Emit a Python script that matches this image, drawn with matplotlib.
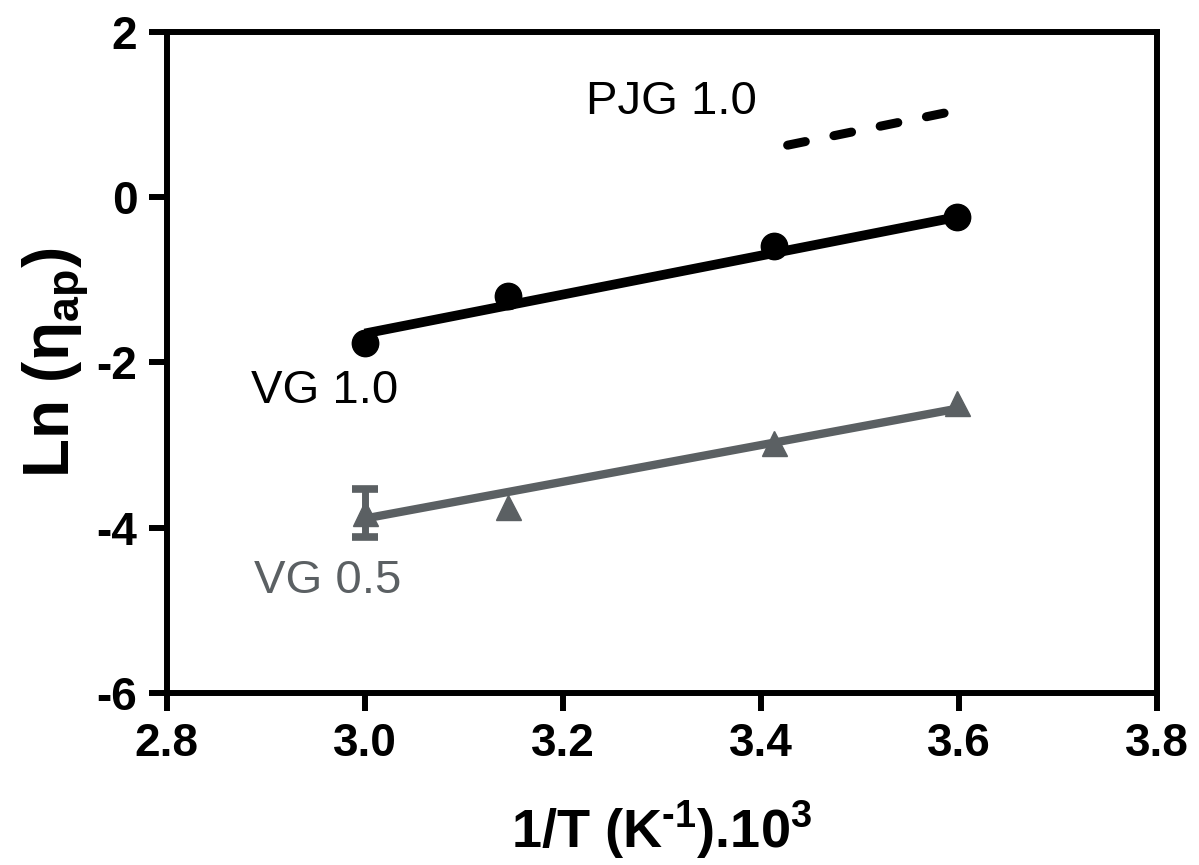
import numpy as np
import matplotlib
matplotlib.use("Agg")
import matplotlib.pyplot as plt

plt.rcParams['font.family'] = ['Liberation Sans', 'DejaVu Sans']
plt.rcParams['mathtext.fontset'] = 'custom'
plt.rcParams['mathtext.rm'] = 'Liberation Sans'
plt.rcParams['mathtext.bf'] = 'Liberation Sans:bold'
plt.rcParams['mathtext.default'] = 'bf'
plt.rcParams['axes.unicode_minus'] = False
plt.rcParams['lines.scale_dashes'] = False

# 1/T (K^-1).10^3
inv_t = [3.0, 3.145, 3.413, 3.598]

# VG 1.0 (black circles) and its fit
vg10 = [-1.76, -1.19, -0.59, -0.24]
vg10_fit_x = [3.0, 3.598]
vg10_fit_y = [-1.65, -0.24]

# VG 0.5 (grey triangles) and its fit; only the first point has an error bar
vg05 = [-3.82, -3.75, -2.97, -2.49]
vg05_err_x = [3.0]
vg05_err_y = [-3.82]
vg05_err = [0.29]
vg05_fit_x = [3.0, 3.598]
vg05_fit_y = [-3.89, -2.56]

# PJG 1.0 (dashed fit only)
pjg_fit_x = [3.427, 3.598]
pjg_fit_y = [0.63, 1.05]

grey = '#5b6063'

fig = plt.figure(figsize=(11.99, 8.65), dpi=100)
ax = fig.add_axes([0.139, 0.199, 0.826, 0.764])

# VG 1.0
ax.plot(vg10_fit_x, vg10_fit_y, color='black', lw=7, solid_capstyle='butt')
ax.plot(inv_t, vg10, 'o', color='black', ms=19)

# VG 0.5
ax.plot(vg05_fit_x, vg05_fit_y, color=grey, lw=6, solid_capstyle='butt')
ax.errorbar(vg05_err_x, vg05_err_y, yerr=vg05_err, fmt='none', ecolor=grey,
            elinewidth=5, capsize=9.5, capthick=5.5)
ax.plot(inv_t, vg05, '^', color=grey, ms=18)

# PJG 1.0
ax.plot(pjg_fit_x, pjg_fit_y, color='black', lw=6.5, dashes=(13, 21),
        dash_capstyle='round')

# Labels inside plot
ax.text(3.31, 1.15, 'PJG 1.0', fontsize=34, ha='center', va='center')
ax.text(2.96, -2.34, 'VG 1.0', fontsize=34, ha='center', va='center')
ax.text(2.963, -4.64, 'VG 0.5', fontsize=34, ha='center', va='center', color=grey)

ax.set_xlim(2.8, 3.8)
ax.set_ylim(-6, 2)
ax.set_xticks([2.8, 3.0, 3.2, 3.4, 3.6, 3.8])
ax.set_xticklabels(['2.8', '3.0', '3.2', '3.4', '3.6', '3.8'])
ax.set_yticks([-6, -4, -2, 0, 2])

for sp in ax.spines.values():
    sp.set_linewidth(4.3)
ax.tick_params(width=4.3, length=13, labelsize=33, pad=8)
for lbl in ax.get_xticklabels() + ax.get_yticklabels():
    lbl.set_fontweight('bold')

ax.set_xlabel('1/T (K$^{\u20101}$).10$^{3}$', fontsize=39, fontweight='bold', labelpad=24)
ax.set_ylabel(r'Ln ($\eta_{ap}$)', fontsize=46, fontweight='bold', labelpad=4)

fig.savefig('out.png', dpi=100)
